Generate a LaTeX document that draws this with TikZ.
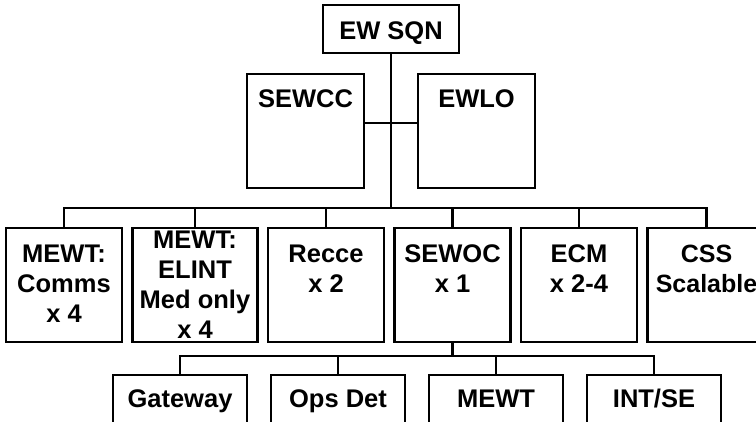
\documentclass[tikz,border=0pt]{standalone}
\usepackage{fontspec}
\setmainfont{Liberation Sans}
\usetikzlibrary{positioning}

\newcommand{\unitlines}[2]{\parbox[t]{#1}{\centering #2}}

\begin{document}
\begin{tikzpicture}[x=1pt,y=-1pt,node distance=10.5pt,
  box/.style={draw=black,line width=2.8pt,fill=white,inner sep=0pt,outer sep=0pt,
    font=\bfseries\fontsize{25.5}{30}\selectfont},
  topbox/.style={box,minimum width=136pt,text height=35pt,text depth=13pt},
  cellbox/.style={box,minimum width=117pt,text height=34pt,text depth=80pt},
  unitbox/.style={box,minimum width=116pt,text height=35pt,text depth=79pt},
  detbox/.style={box,minimum width=134pt,text height=32pt,text depth=24pt},
  wire/.style={line width=2.8pt}]
\fill[white] (0,0) rectangle (756,422);
\useasboundingbox (0,0) rectangle (756,422);
\node[topbox,anchor=north] (sqn) at (391,5) {EW SQN};
\node[cellbox,anchor=north] (sewcc) at (305.5,74) {SEWCC};
\node[cellbox,right=54pt of sewcc] (ewlo) {EWLO};
\node[unitbox,anchor=north] (comms) at (64,228) {\unitlines{112pt}{MEWT:\\Comms\\x 4}};
\node[unitbox,minimum width=125pt,text height=21pt,text depth=93pt,right=of comms] (elint)
  {\unitlines{121pt}{MEWT:\\ELINT\\Med only\\x 4}};
\node[unitbox,right=of elint] (recce) {\unitlines{112pt}{Recce\\x 2}};
\node[unitbox,right=of recce] (sewoc) {\unitlines{112pt}{SEWOC\\x 1}};
\node[unitbox,right=of sewoc] (ecm) {\unitlines{112pt}{ECM\\x 2-4}};
\node[unitbox,minimum width=118pt,right=of ecm] (css)
  {\unitlines{114pt}{\fontsize{25}{30}\selectfont CSS\\Scalable}};
\node[detbox,anchor=north] (gateway) at (180,375) {Gateway};
\node[detbox,right=24pt of gateway] (opsdet) {Ops Det};
\node[detbox,right=24pt of opsdet] (mewt) {MEWT};
\node[detbox,right=24pt of mewt] (intse) {INT/SE};
\coordinate (link) at (392,123);
\coordinate (bus) at (392,208);
\coordinate (detbus) at (452,356);
\draw[wire] (sqn.south) -- (sqn.south |- bus);
\draw[wire] (sewcc.east |- link) -- (ewlo.west |- link);
\draw[wire] (comms.north) |- (bus) -| (css.north);
\foreach \n in {elint,recce,sewoc,ecm}
  \draw[wire] (\n.north) -- (\n.north |- bus);
\draw[wire] (sewoc.south) -- (sewoc.south |- detbus);
\draw[wire] (gateway.north) |- (detbus) -| (intse.north);
\foreach \n in {opsdet,mewt}
  \draw[wire] (\n.north) -- (\n.north |- detbus);
\end{tikzpicture}
\end{document}
